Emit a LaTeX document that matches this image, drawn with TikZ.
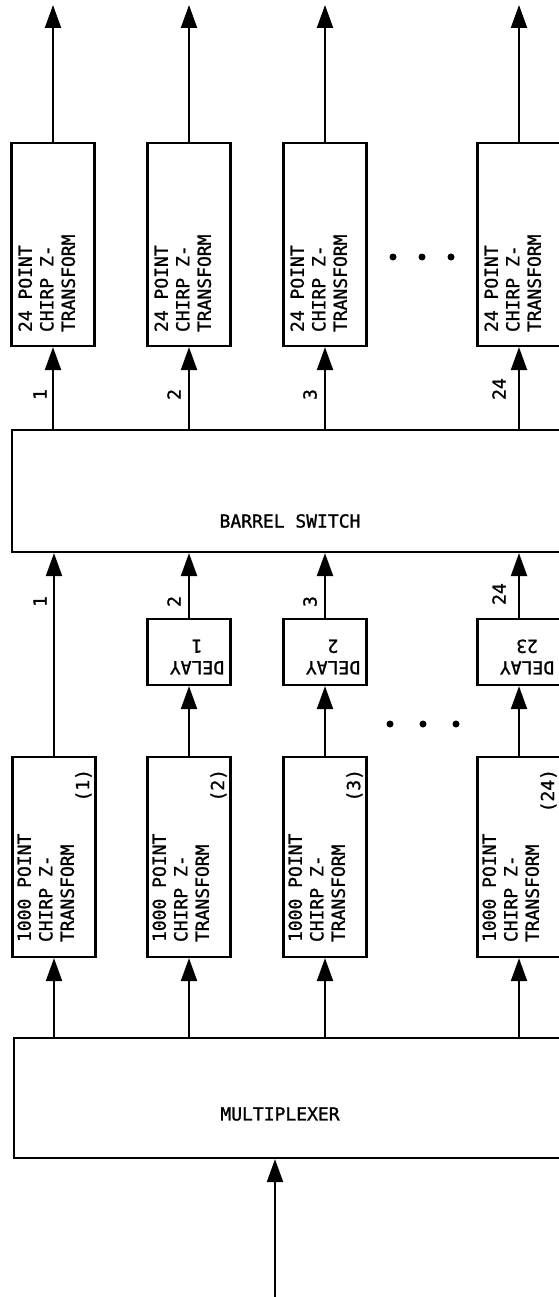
\documentclass[tikz,border=0pt]{standalone}
\usepackage{fontspec}
\setmonofont[FakeBold=1.2]{DejaVu Sans Mono}
\usetikzlibrary{arrows.meta,positioning}

\begin{document}
\begin{tikzpicture}[x=1pt,y=-1pt,line width=2.2pt,>={Triangle[length=23pt,width=16pt]},
    every node/.style={font=\ttfamily\fontsize{18}{21.5}\selectfont},
    box node/.style={draw,inner sep=0pt,minimum width=83pt},
    up text/.style={rotate=90,anchor=north west,align=left,inner sep=0pt},
    num/.style={rotate=90,anchor=west,inner sep=0pt}]

  \useasboundingbox (0,0) rectangle (558,1297);

  % 24 point chirp z-transforms
  \node[box node,minimum height=203pt] (s1) at (53,244.5) {};
  \node[box node,minimum height=203pt] (s2) at (189,244.5) {};
  \node[box node,minimum height=203pt] (s3) at (325,244.5) {};
  \node[box node,minimum height=203pt] (s24) at (519,244.5) {};
  \node[up text] (s1t) at ([shift={(7,-14)}]s1.south west) {24 POINT\\CHIRP Z-\\TRANSFORM};
  \node[up text] (s2t) at ([shift={(7,-14)}]s2.south west) {24 POINT\\CHIRP Z-\\TRANSFORM};
  \node[up text] (s3t) at ([shift={(7,-14)}]s3.south west) {24 POINT\\CHIRP Z-\\TRANSFORM};
  \node[up text] (s24t) at ([shift={(7,-14)}]s24.south west) {24 POINT\\CHIRP Z-\\TRANSFORM};

  \coordinate (o1) at (53,5);
  \coordinate (o2) at (189,5);
  \coordinate (o3) at (325,5);
  \coordinate (o24) at (519,5);

  % barrel switch
  \node[draw,inner sep=0pt,minimum width=563pt,minimum height=122pt] (bs) at (293.5,491) {};
  \node (bst) at (290,521) {BARREL SWITCH};

  % delays
  \node[box node,minimum height=66pt] (d1) at (189,652) {};
  \node[box node,minimum height=66pt] (d2) at (325,652) {};
  \node[box node,minimum height=66pt] (d23) at (519,652) {};
  \node[rotate=180,align=center,inner sep=0pt] (d1t) at (197,657) {DELAY\\1};
  \node[rotate=180,align=center,inner sep=0pt] (d2t) at (333,657) {DELAY\\2};
  \node[rotate=180,align=center,inner sep=0pt] (d23t) at (527,657) {DELAY\\23};

  % 1000 point chirp z-transforms
  \node[box node,minimum height=200pt] (c1) at (54,857) {};
  \node[box node,minimum height=200pt] (c2) at (189,857) {};
  \node[box node,minimum height=200pt] (c3) at (325,857) {};
  \node[box node,minimum height=200pt] (c24) at (519,857) {};
  \node[up text] (c1t) at ([shift={(5,-15)}]c1.south west) {1000 POINT\\CHIRP Z-\\TRANSFORM};
  \node[up text] (c2t) at ([shift={(5,-15)}]c2.south west) {1000 POINT\\CHIRP Z-\\TRANSFORM};
  \node[up text] (c3t) at ([shift={(5,-15)}]c3.south west) {1000 POINT\\CHIRP Z-\\TRANSFORM};
  \node[up text] (c24t) at ([shift={(5,-15)}]c24.south west) {1000 POINT\\CHIRP Z-\\TRANSFORM};
  \node[rotate=90,anchor=south east,inner sep=0pt] (c1n) at ([shift={(-4,12)}]c1.north east) {(1)};
  \node[rotate=90,anchor=south east,inner sep=0pt] (c2n) at ([shift={(-4,12)}]c2.north east) {(2)};
  \node[rotate=90,anchor=south east,inner sep=0pt] (c3n) at ([shift={(-4,12)}]c3.north east) {(3)};
  \node[rotate=90,anchor=south east,inner sep=0pt] (c24n) at ([shift={(-4,12)}]c24.north east) {(24)};

  % multiplexer
  \node[draw,inner sep=0pt,minimum width=561pt,minimum height=120pt] (mux) at (294.5,1098) {};
  \node (muxt) at (280,1114) {MULTIPLEXER};
  \coordinate (in) at (275,1297);

  % channel numbers
  \node[num] (n1a) at (40,401) {1};
  \node[num] (n2a) at (174,401) {2};
  \node[num] (n3a) at (310,401) {3};
  \node[num] (n24a) at (499,401) {24};
  \node[num] (n1b) at (40,608) {1};
  \node[num] (n2b) at (174,608) {2};
  \node[num] (n3b) at (310,608) {3};
  \node[num] (n24b) at (499,606) {24};

  % dots
  \fill (393,257) circle (3.5pt) (422,257) circle (3.5pt) (451,257) circle (3.5pt);
  \fill (390,724) circle (3.5pt) (423,724) circle (3.5pt) (456,724) circle (3.5pt);

  \path[->]
    (s1) edge (o1)
    (s2) edge (o2)
    (s3) edge (o3)
    (s24) edge (o24)
    (bs.north -| s1) edge (s1)
    (bs.north -| s2) edge (s2)
    (bs.north -| s3) edge (s3)
    (bs.north -| s24) edge (s24)
    (c1) edge (bs.south -| c1)
    (d1) edge (bs.south -| d1)
    (d2) edge (bs.south -| d2)
    (d23) edge (bs.south -| d23)
    (c2) edge (d1)
    (c3) edge (d2)
    (c24) edge (d23)
    (mux.north -| c1) edge (c1)
    (mux.north -| c2) edge (c2)
    (mux.north -| c3) edge (c3)
    (mux.north -| c24) edge (c24)
    (in) edge (in |- mux.south);
\end{tikzpicture}
\end{document}
